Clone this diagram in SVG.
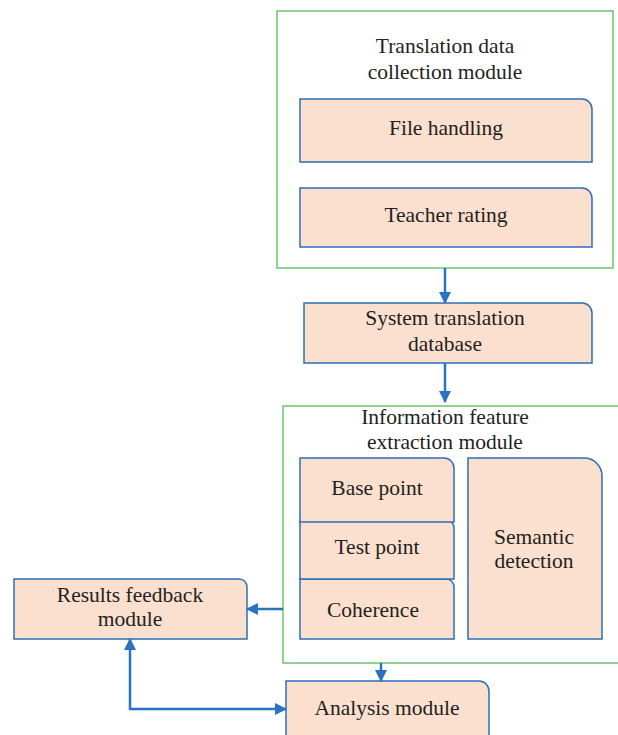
<svg xmlns="http://www.w3.org/2000/svg" width="618" height="735" viewBox="0 0 618 735">
  <style>
    .frame { fill: #ffffff; stroke: #6cc46c; stroke-width: 1.5; }
    .box { fill: #fbdfcf; stroke: #2e6fb5; stroke-width: 1.5; }
    .label { font-family: "Liberation Serif", "Times New Roman", serif; font-size: 21.5px; fill: #231f20; text-anchor: middle; }
    .wire { fill: none; stroke: #2a73c0; stroke-width: 2.5; }
  </style>
  <defs>
    <marker id="head" viewBox="0 0 12 12" refX="11" refY="6" markerWidth="12" markerHeight="12" markerUnits="userSpaceOnUse" orient="auto-start-reverse">
      <path d="M0,0 L12,6 L0,12 Z" fill="#2a73c0"/>
    </marker>
  </defs>
  <rect width="618" height="735" fill="#ffffff"/>

  <!-- collection module -->
  <g id="collection-module">
    <rect class="frame" x="277" y="11" width="336" height="257"/>
    <text class="label" x="445" y="53">Translation data</text>
    <text class="label" x="445" y="79">collection module</text>
  </g>
  <g id="file-handling">
    <path class="box" d="M300,99 H582 A10,10 0 0 1 592,109 V162 H300 Z"/>
    <text class="label" x="446" y="135">File handling</text>
  </g>
  <g id="teacher-rating">
    <path class="box" d="M300,188 H582 A10,10 0 0 1 592,198 V247 H300 Z"/>
    <text class="label" x="446" y="222">Teacher rating</text>
  </g>

  <!-- database -->
  <g id="translation-database">
    <path class="box" d="M304,303 H582 A10,10 0 0 1 592,313 V363 H304 Z"/>
    <text class="label" x="445" y="325">System translation</text>
    <text class="label" x="445" y="351">database</text>
  </g>

  <!-- feature extraction module -->
  <g id="feature-extraction">
    <path class="frame" d="M620,406 H283 V663 H620"/>
    <text class="label" x="445" y="424">Information feature</text>
    <text class="label" x="445" y="449">extraction module</text>
  </g>
  <g id="coherence">
    <path class="box" d="M300,579 H446 A8,8 0 0 1 454,587 V639 H300 Z"/>
    <text class="label" x="373" y="617">Coherence</text>
  </g>
  <g id="test-point">
    <path class="box" d="M300,520 H446 A8,8 0 0 1 454,528 V579 H300 Z"/>
    <text class="label" x="377" y="554">Test point</text>
  </g>
  <g id="base-point">
    <path class="box" d="M300,458 H444 A10,10 0 0 1 454,468 V522 H300 Z"/>
    <text class="label" x="377" y="495">Base point</text>
  </g>
  <g id="semantic-detection">
    <path class="box" d="M468,458 H584 A18,18 0 0 1 602,476 V639 H468 Z"/>
    <text class="label" x="534" y="544">Semantic</text>
    <text class="label" x="534" y="568">detection</text>
  </g>

  <!-- feedback and analysis -->
  <g id="results-feedback">
    <path class="box" d="M14,579 H239 A8,8 0 0 1 247,587 V639 H14 Z"/>
    <text class="label" x="130" y="602">Results feedback</text>
    <text class="label" x="130" y="626">module</text>
  </g>
  <g id="analysis-module">
    <path class="box" d="M286,681 H479 A10,10 0 0 1 489,691 V740 H286 Z"/>
    <text class="label" x="387" y="715">Analysis module</text>
  </g>

  <!-- connectors -->
  <g id="connectors">
    <path class="wire" d="M445,268 V303" marker-end="url(#head)"/>
    <path class="wire" d="M445,363 V402" marker-end="url(#head)"/>
    <path class="wire" d="M283,609 H247" marker-end="url(#head)"/>
    <path class="wire" d="M381,663 V681" marker-end="url(#head)"/>
    <path class="wire" d="M130,639 V709 H286" marker-start="url(#head)" marker-end="url(#head)"/>
  </g>
</svg>
